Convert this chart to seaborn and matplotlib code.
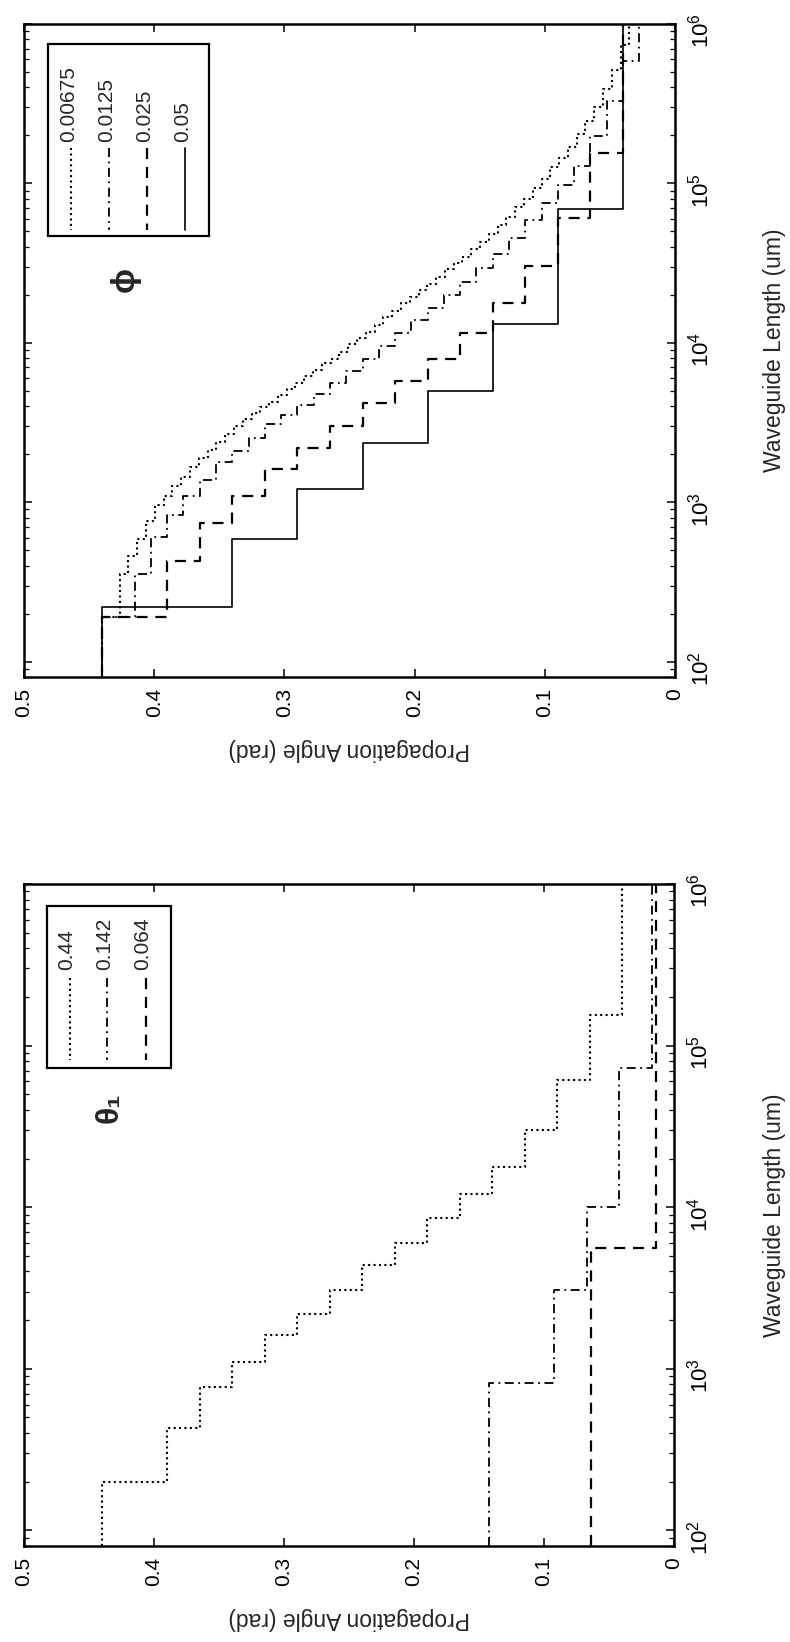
import numpy as np
import pandas as pd
import matplotlib
matplotlib.use("Agg")
import matplotlib.pyplot as plt
import seaborn as sns
from matplotlib import font_manager
from matplotlib.patches import Rectangle
from matplotlib.lines import Line2D
from matplotlib.ticker import FixedLocator, LogLocator, NullFormatter

# ---------------- data ----------------
L_START, L_END = 80, 1e6
ANGLE_TICKS = [0, 0.1, 0.2, 0.3, 0.4, 0.5]
ANGLE_TICK_LABELS = ["0", "0.1", "0.2", "0.3", "0.4", "0.5"]
LENGTH_TICKS = [1e2, 1e3, 1e4, 1e5, 1e6]
LENGTH_TICK_LABELS = [r"$10^{2}$", r"$10^{3}$", r"$10^{4}$", r"$10^{5}$", r"$10^{6}$"]
X_LABEL = "Waveguide Length (um)"
Y_LABEL = "Propagation Angle (rad)"

# phi panel (start angle 0.44 for every curve)
phi_labels = ["0.00675", "0.0125", "0.025", "0.05"]
phi_start = 0.44
phi_a1 = [0.4265, 0.41975, 0.413, 0.40625, 0.3995, 0.39275, 0.386, 0.37925, 0.3725, 0.36575,
          0.359, 0.35225, 0.3455, 0.33875, 0.332, 0.32525, 0.3185, 0.31175, 0.305, 0.29825,
          0.2915, 0.28475, 0.278, 0.27125, 0.2645, 0.25775, 0.251, 0.24425, 0.2375, 0.23075,
          0.224, 0.21725, 0.2105, 0.20375, 0.197, 0.19025, 0.1835, 0.17675, 0.17, 0.16325,
          0.1565, 0.14975, 0.143, 0.13625, 0.1295, 0.12275, 0.116, 0.10925, 0.1025, 0.09575,
          0.089, 0.08225, 0.0755, 0.06875, 0.062, 0.05525, 0.0485, 0.04175, 0.035]
phi_L1 = [191, 355, 457, 589, 759, 955, 1096, 1259, 1445, 1660,
          1905, 2138, 2399, 2692, 3020, 3311, 3631, 3981, 4266, 4677,
          5129, 5623, 6166, 6761, 7413, 7943, 8710, 9772, 10715, 11749,
          12882, 14454, 15849, 17783, 19498, 21380, 23442, 25704, 28840, 31623,
          34674, 38905, 42658, 47863, 54954, 61660, 70795, 79433, 93325, 107152,
          125893, 144544, 169824, 204174, 245471, 301995, 389045, 512861, 741310]
phi_a2 = [0.415, 0.4025, 0.39, 0.3775, 0.365, 0.3525, 0.34, 0.3275, 0.315, 0.3025,
          0.29, 0.2775, 0.265, 0.2525, 0.24, 0.2275, 0.215, 0.2025, 0.19, 0.1775,
          0.165, 0.1525, 0.14, 0.1275, 0.115, 0.1025, 0.09, 0.0775, 0.065, 0.0525,
          0.04, 0.0275]
phi_L2 = [191, 355, 603, 832, 1096, 1380, 1778, 2089, 2512, 3090,
          3548, 4074, 4786, 5623, 6607, 7943, 9550, 11482, 13804, 16596,
          19953, 23988, 29512, 36308, 45709, 58884, 75858, 97724, 128825, 199526,
          331131, 588844]
phi_a3 = [0.39, 0.365, 0.34, 0.315, 0.29, 0.265, 0.24, 0.215, 0.19, 0.165, 0.14, 0.115, 0.09, 0.065, 0.04]
phi_L3 = [191, 427, 741, 1096, 1622, 2188, 3020, 4169, 5754, 7943, 11482, 17783, 30200, 60256, 154882]
phi_a4 = [0.34, 0.29, 0.24, 0.19, 0.14, 0.09, 0.04]
phi_L4 = [219, 589, 1202, 2344, 5012, 13183, 69183]

# theta1 panel
th_labels = ["0.44", "0.142", "0.064"]
th_start = [0.44, 0.142, 0.064]
th_a1 = [0.39, 0.365, 0.34, 0.315, 0.29, 0.265, 0.24, 0.215, 0.19, 0.165, 0.14, 0.115, 0.09, 0.065, 0.04]
th_L1 = [200, 427, 767, 1096, 1622, 2188, 3090, 4365, 6026, 8511, 12023, 17783, 30200, 61660, 154882]
th_a2 = [0.092, 0.067, 0.042, 0.017]
th_L2 = [813, 3090, 10000, 72444]
th_a3 = [0.014]
th_L3 = [5623]

# ---------------- style ----------------
sns.set_theme(style="white")
names = {f.name for f in font_manager.fontManager.ttflist}
if "Liberation Sans Narrow" in names:
    FAM, FS, FL = "Liberation Sans Narrow", 17, 18
else:
    FAM, FS, FL = "Liberation Sans", 15, 16.5
plt.rcParams["font.family"] = [FAM, "DejaVu Sans"]
plt.rcParams["mathtext.fontset"] = "custom"
plt.rcParams["mathtext.rm"] = FAM
plt.rcParams["mathtext.it"] = FAM
plt.rcParams["mathtext.bf"] = FAM

STYLES = [
    dict(linestyle=(0, (1.0, 1.6)), linewidth=1.5),        # dotted
    dict(linestyle=(0, (5, 2.5, 1, 2.5)), linewidth=1.3),  # dash-dot
    dict(linestyle=(0, (5, 3.5)), linewidth=1.6),          # dashed
    dict(linestyle="-", linewidth=1.2),                    # solid
]

W, H = 790, 1642
fig = plt.figure(figsize=(W / 100, H / 100), dpi=100)


def fx(px):
    return px / W


def fy(py):
    return 1 - py / H


def make_ax(left, top, right, bottom):
    return fig.add_axes([fx(left), fy(bottom), (right - left) / W, (bottom - top) / H])


def frame(start, angles, lengths):
    ang = [start] + list(angles) + [angles[-1]]
    ln = [L_START] + list(lengths) + [L_END]
    return pd.DataFrame({"angle": ang, "length": ln})


ax_phi = make_ax(24, 24, 675, 677)
ax_th = make_ax(24, 884, 674, 1546)

phi_series = [(phi_a1, phi_L1), (phi_a2, phi_L2), (phi_a3, phi_L3), (phi_a4, phi_L4)]
for (a, L), st in zip(phi_series, STYLES):
    sns.lineplot(data=frame(phi_start, a, L), x="angle", y="length", ax=ax_phi,
                 sort=False, estimator=None, drawstyle="steps-pre", color="black", **st)

th_series = [(th_a1, th_L1), (th_a2, th_L2), (th_a3, th_L3)]
for (a, L), s0, st in zip(th_series, th_start, STYLES[:3]):
    sns.lineplot(data=frame(s0, a, L), x="angle", y="length", ax=ax_th,
                 sort=False, estimator=None, drawstyle="steps-pre", color="black", **st)

for ax, hpx, wpx in [(ax_phi, 653, 651), (ax_th, 662, 650)]:
    ax.set_yscale("log")
    ax.set_xlim(0.5, 0)
    ax.set_ylim(L_START, L_END)
    ax.set_xticks(ANGLE_TICKS)
    ax.set_xticklabels(ANGLE_TICK_LABELS, rotation=90, fontsize=FS)
    ax.yaxis.set_major_locator(FixedLocator(LENGTH_TICKS))
    ax.set_yticks(LENGTH_TICKS)
    ax.set_yticklabels(LENGTH_TICK_LABELS, rotation=90, fontsize=FS + 1)
    ax.yaxis.set_minor_locator(LogLocator(base=10, subs=np.arange(2, 10), numticks=30))
    ax.yaxis.set_minor_formatter(NullFormatter())
    ax.tick_params(axis="both", which="both", direction="in", top=True, bottom=True,
                   left=True, right=True, labelleft=False, labelright=True,
                   labelbottom=True, labeltop=False, colors="black")
    ax.tick_params(which="major", length=6, width=1.1)
    ax.tick_params(which="minor", length=3.5, width=0.9)
    ax.tick_params(axis="x", pad=8)
    ax.tick_params(axis="y", pad=9)
    for sp in ax.spines.values():
        sp.set_color("black")
        sp.set_linewidth(1.8)
    ax.grid(False)
    ax.yaxis.set_label_position("right")
    ax.set_ylabel(X_LABEL, fontsize=FL)
    ax.yaxis.label.set_rotation(90)
    ax.yaxis.label.set_ha("center")
    ax.yaxis.label.set_va("center")
    ax.yaxis.set_label_coords(1 + 100 / wpx, 0.5)
    ax.set_xlabel(Y_LABEL, fontsize=FL)
    ax.xaxis.label.set_rotation(180)
    ax.xaxis.label.set_ha("center")
    ax.xaxis.label.set_va("center")
    ax.xaxis.set_label_coords(0.5, -72 / hpx)


def draw_legend(box, labels, styles, xtext, xline, text_bottom, line_top, line_bottom):
    rect = Rectangle((fx(box[0]), fy(box[3])), (box[2] - box[0]) / W, (box[3] - box[1]) / H,
                     transform=fig.transFigure, facecolor="white", edgecolor="black",
                     linewidth=1.6, zorder=5)
    fig.add_artist(rect)
    for lab, st, xt, xl in zip(labels, styles, xtext, xline):
        fig.add_artist(Line2D([fx(xl), fx(xl)], [fy(line_top), fy(line_bottom)],
                              transform=fig.transFigure, color="black", zorder=6, **st))
        fig.text(fx(xt), fy(text_bottom), lab, rotation=90, ha="center", va="bottom",
                 fontsize=FS, zorder=7)


draw_legend((48, 44, 209, 236), phi_labels, STYLES, [69, 107, 145, 183], [71, 109, 147, 185],
            142, 148, 230)
draw_legend((47, 906, 171, 1068), th_labels, STYLES[:3], [67, 105, 143], [70, 107, 146],
            970, 978, 1060)

fig.text(fx(125), fy(280), "ϕ", rotation=90, ha="center", va="center", fontsize=24,
         fontweight="bold")
fig.text(fx(110), fy(1108), "θ₁", rotation=90, ha="center", va="center", fontsize=23,
         fontweight="bold")

fig.savefig("out.png", dpi=100)
